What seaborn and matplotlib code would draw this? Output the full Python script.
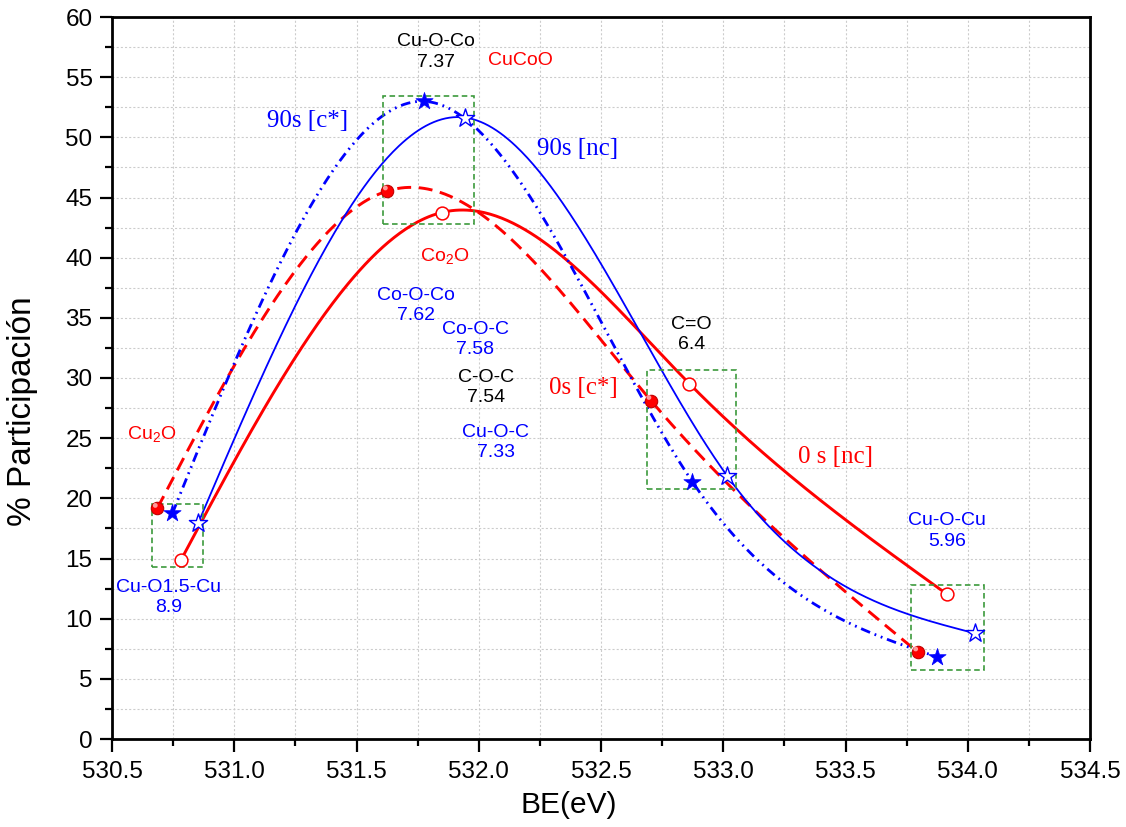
import numpy as np
import pandas as pd
import matplotlib
matplotlib.use("Agg")
import matplotlib.pyplot as plt
from matplotlib.patches import Rectangle
from matplotlib.ticker import MultipleLocator, FormatStrFormatter
import seaborn as sns

# ---- measured points (binding energy in eV, % participation) ----
be_0s_c = [530.685, 531.626, 532.704, 533.795]
pct_0s_c = [19.16, 45.54, 28.13, 7.23]

be_0s_nc = [530.782, 531.848, 532.861, 533.916]
pct_0s_nc = [14.87, 43.75, 29.54, 12.02]

be_90s_c = [530.747, 531.777, 532.874, 533.873]
pct_90s_c = [18.75, 52.99, 21.37, 6.84]

be_90s_nc = [530.853, 531.945, 533.017, 534.030]
pct_90s_nc = [17.97, 51.64, 21.84, 8.78]

series_names = ["0s [c*]", "0 s [nc]", "90s [c*]", "90s [nc]"]

x_ticks = [530.5, 531.0, 531.5, 532.0, 532.5, 533.0, 533.5, 534.0, 534.5]
y_ticks = [0, 5, 10, 15, 20, 25, 30, 35, 40, 45, 50, 55, 60]

# groups of points highlighted with dashed frames (x0, x1, y0, y1)
frame_x0 = [530.664, 531.607, 532.687, 533.767]
frame_x1 = [530.871, 531.982, 533.054, 534.066]
frame_y0 = [14.26, 42.77, 20.79, 5.76]
frame_y1 = [19.52, 53.43, 30.65, 12.82]

# bond assignments with their values
bond_labels = ["Cu-O-Co\n7.37", "CuCoO", "Co$_2$O", "Co-O-Co\n7.62", "Co-O-C\n7.58",
               "C-O-C\n7.54", "Cu-O-C\n7.33", "Cu$_2$O", "C=O\n6.4",
               "Cu-O1.5-Cu\n8.9", "Cu-O-Cu\n5.96"]
bond_x = [531.825, 532.171, 531.862, 531.743, 531.985, 532.03, 532.07, 530.664,
          532.871, 530.733, 533.915]
bond_y = [57.1, 56.35, 40.1, 36.05, 33.2, 29.24, 24.67, 25.33, 33.6, 11.75, 17.28]
bond_colors = ["black", "red", "red", "blue", "blue", "black", "blue", "red",
               "black", "blue", "blue"]

series_label_x = [532.428, 533.459, 531.298, 532.406]
series_label_y = [29.15, 23.42, 51.33, 49.0]


def natural_spline(xk, yk, num=400):
    xk = np.asarray(xk, float)
    yk = np.asarray(yk, float)
    n = len(xk)
    h = np.diff(xk)
    A = np.zeros((n, n))
    rhs = np.zeros(n)
    A[0, 0] = 1.0
    A[-1, -1] = 1.0
    for i in range(1, n - 1):
        A[i, i - 1] = h[i - 1]
        A[i, i] = 2.0 * (h[i - 1] + h[i])
        A[i, i + 1] = h[i]
        rhs[i] = 6.0 * ((yk[i + 1] - yk[i]) / h[i] - (yk[i] - yk[i - 1]) / h[i - 1])
    M = np.linalg.solve(A, rhs)
    xs = np.linspace(xk[0], xk[-1], num)
    idx = np.clip(np.searchsorted(xk, xs) - 1, 0, n - 2)
    hi = h[idx]
    xa, xb = xk[idx], xk[idx + 1]
    ys = (M[idx] * (xb - xs) ** 3 / (6 * hi) + M[idx + 1] * (xs - xa) ** 3 / (6 * hi)
          + (yk[idx] / hi - M[idx] * hi / 6) * (xb - xs)
          + (yk[idx + 1] / hi - M[idx + 1] * hi / 6) * (xs - xa))
    return xs, ys


sns.set_style("white")
plt.rcParams["font.family"] = ["Liberation Sans", "DejaVu Sans"]
plt.rcParams["mathtext.default"] = "regular"
plt.rcParams["lines.scale_dashes"] = False
plt.rcParams["text.color"] = "black"
plt.rcParams["axes.labelcolor"] = "black"
plt.rcParams["xtick.color"] = "black"
plt.rcParams["ytick.color"] = "black"

fig = plt.figure(figsize=(11.26, 8.27), dpi=100)
ax = fig.add_axes([112 / 1126, 88 / 827, 978 / 1126, 722 / 827])

point_sets = [(be_0s_c, pct_0s_c), (be_0s_nc, pct_0s_nc),
              (be_90s_c, pct_90s_c), (be_90s_nc, pct_90s_nc)]
line_colors = ["#ff0000", "#ff0000", "#0000ff", "#0000ff"]
line_widths = [2.1, 2.1, 2.0, 1.3]
line_dashes = [(0, (10, 5.5)), "-", (0, (7, 3.5, 1.3, 3.5, 1.3, 3.5)), "-"]

frames = []
for name, (bx, py) in zip(series_names, point_sets):
    frames.append(pd.DataFrame({"serie": name, "BE": bx, "pct": py}))
points = pd.concat(frames, ignore_index=True)

# spline connections
for name, (bx, py), c, lw, ls in zip(series_names, point_sets, line_colors,
                                     line_widths, line_dashes):
    xs, ys = natural_spline(bx, py)
    curve = pd.DataFrame({"BE": xs, "pct": ys})
    sns.lineplot(data=curve, x="BE", y="pct", ax=ax, color=c, lw=lw,
                 linestyle=ls, sort=False, estimator=None, zorder=3)

# symbols
sym = {
    "0s [c*]": dict(marker="o", s=80, color="#ff0000", edgecolor="#c00000", linewidth=0.8),
    "0 s [nc]": dict(marker="o", s=85, color="white", edgecolor="#ff0000", linewidth=1.1),
    "90s [c*]": dict(marker="*", s=170, color="#0000ff", edgecolor="#0000ff", linewidth=0.5),
    "90s [nc]": dict(marker="*", s=190, color="white", edgecolor="#0000ff", linewidth=1.0),
}
for name in series_names:
    sub = points[points["serie"] == name]
    sns.scatterplot(data=sub, x="BE", y="pct", ax=ax, zorder=5, legend=False, **sym[name])
# glossy highlight on filled spheres
sub = points[points["serie"] == "0s [c*]"]
ax.scatter(sub["BE"] - 0.008, sub["pct"] + 0.25, s=12, color="#ff9a9a",
           edgecolors="none", zorder=6)

# dashed frames
for x0, x1, y0, y1 in zip(frame_x0, frame_x1, frame_y0, frame_y1):
    ax.add_patch(Rectangle((x0, y0), x1 - x0, y1 - y0, fill=False,
                           edgecolor="#3c9a3c", lw=1.2, linestyle=(0, (4, 2.5)),
                           zorder=4))

# bond annotations
for t, x, y, c in zip(bond_labels, bond_x, bond_y, bond_colors):
    ax.text(x, y, t, color=c, fontsize=14, ha="center", va="center",
            linespacing=1.25, zorder=7)

# series annotations
serie_colors = ["#ff0000", "#ff0000", "#0000ff", "#0000ff"]
for t, x, y, c in zip(series_names, series_label_x, series_label_y, serie_colors):
    ax.text(x, y, t, color=c, fontsize=18, ha="center", va="center",
            family=["Liberation Serif", "DejaVu Serif"], zorder=7)

ax.set_xlim(x_ticks[0], x_ticks[-1])
ax.set_ylim(y_ticks[0], y_ticks[-1])
ax.set_xticks(x_ticks)
ax.set_yticks(y_ticks)
ax.xaxis.set_major_formatter(FormatStrFormatter("%.1f"))
ax.xaxis.set_minor_locator(MultipleLocator(0.25))
ax.yaxis.set_minor_locator(MultipleLocator(2.5))

ax.grid(True, which="both", color="#cccccc", lw=0.8, linestyle=(0, (1.5, 1.5)))
ax.set_axisbelow(True)

ax.tick_params(which="major", direction="out", length=9, width=1.6,
               labelsize=17.5, top=False, right=False, bottom=True, left=True, pad=5)
ax.tick_params(which="minor", direction="out", length=5, width=1.6,
               top=False, right=False, bottom=True, left=True)
ax.tick_params(axis="x", which="major", pad=7)
for sp in ax.spines.values():
    sp.set_linewidth(2.0)
    sp.set_color("black")

ax.set_xlabel("BE(eV)", fontsize=21.5, va="center")
ax.xaxis.set_label_coords(0.467, -0.091)
ax.set_ylabel("% Participación", fontsize=24, va="center")
ax.yaxis.set_label_coords(-0.0915, 0.454)

fig.savefig("out.png", dpi=100)
